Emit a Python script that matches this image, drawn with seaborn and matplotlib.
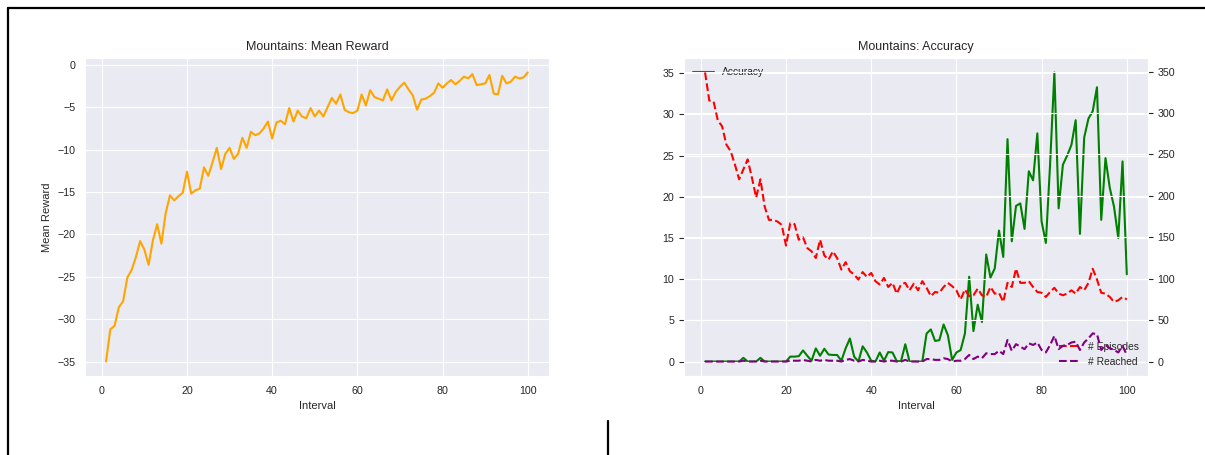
import numpy as np
import seaborn as sns
from matplotlib import pyplot as plt
from matplotlib.lines import Line2D

# values, one per interval (1..100)
intervals = list(range(1, 101))

mean_reward = [
    -35.0, -31.2, -30.8, -28.6, -27.9, -25.1, -24.2, -22.7, -20.8, -21.8,
    -23.6, -20.7, -18.8, -21.1, -17.5, -15.4, -16.0, -15.5, -15.1, -12.6,
    -15.2, -14.8, -14.6, -12.1, -13.1, -11.5, -9.8, -12.3, -10.5, -9.8,
    -11.1, -10.5, -8.6, -9.8, -7.9, -8.3, -8.1, -7.5, -6.7, -8.7,
    -6.8, -6.6, -7.0, -5.1, -6.7, -5.4, -6.1, -6.3, -5.1, -6.1,
    -5.4, -6.1, -5.0, -3.9, -4.6, -3.5, -5.3, -5.6, -5.7, -5.4,
    -3.5, -4.8, -3.0, -3.8, -4.0, -4.2, -2.9, -4.2, -3.2, -2.6,
    -2.1, -2.9, -3.6, -5.3, -4.1, -4.0, -3.7, -3.3, -2.2, -2.7,
    -2.2, -1.8, -2.3, -1.9, -1.4, -1.6, -1.1, -2.4, -2.3, -2.2,
    -1.2, -3.4, -3.5, -1.3, -2.2, -2.0, -1.4, -1.6, -1.5, -0.9,
]

accuracy = [
    0, 0, 0, 0, 0, 0, 0, 0, 0, 0.45,
    0, 0, 0, 0.45, 0, 0, 0, 0, 0, 0,
    0.6, 0.6, 0.65, 1.35, 0.7, 0.1, 1.6, 0.7, 1.55, 0.85,
    0.8, 0.8, 0.1, 1.6, 2.8, 0.6, 0, 1.85, 1.1, 0.1,
    0, 1.1, 0.1, 1.15, 1.1, 0.05, 0.05, 2.1, 0, 0,
    0, 0, 3.4, 3.9, 2.5, 2.6, 4.5, 3.2, 0.2, 1.1,
    1.4, 3.4, 10.3, 3.7, 6.9, 4.8, 13.0, 10.2, 11.3, 15.9,
    12.7, 27.0, 14.6, 18.9, 19.2, 16.1, 23.1, 22.0, 27.7, 17.0,
    14.4, 24.0, 35.1, 18.6, 23.9, 25.0, 26.3, 29.3, 15.5, 27.2,
    29.5, 30.4, 33.3, 17.2, 24.7, 21.1, 18.8, 15.0, 24.3, 10.6,
]

episodes = [
    349, 315, 314, 291, 284, 262, 254, 238, 220, 232,
    244, 222, 198, 220, 187, 171, 171, 169, 165, 140,
    167, 166, 147, 150, 137, 133, 125, 147, 128, 123,
    133, 125, 111, 120, 109, 105, 99, 108, 102, 107,
    97, 93, 101, 90, 95, 82, 93, 95, 86, 94,
    86, 97, 89, 79, 84, 83, 90, 95, 91, 86,
    75, 87, 79, 80, 88, 80, 78, 90, 82, 83,
    72, 95, 90, 112, 95, 95, 97, 90, 84, 83,
    78, 84, 89, 82, 80, 82, 86, 82, 90, 86,
    95, 112, 99, 83, 82, 78, 72, 74, 78, 75,
]

reached = [
    0, 0, 0, 0, 0, 0, 0, 0, 0, 1,
    0, 0, 0, 1, 0, 0, 0, 0, 0, 0,
    1, 1, 1, 2, 1, 0, 2, 1, 2, 1,
    1, 1, 0, 2, 3, 1, 0, 2, 1, 0,
    0, 1, 0, 1, 1, 0, 0, 2, 0, 0,
    0, 0, 3, 3, 2, 2, 4, 3, 0, 1,
    1, 3, 8, 3, 6, 4, 10, 9, 9, 13,
    9, 26, 13, 21, 18, 15, 22, 20, 23, 14,
    11, 20, 31, 15, 19, 20, 23, 24, 14, 23,
    28, 34, 33, 14, 20, 16, 14, 11, 19, 8,
]

sns.set_style("darkgrid")
plt.rcParams['font.family'] = ['Liberation Sans', 'DejaVu Sans']
plt.rcParams['xtick.labelsize'] = 7.7
plt.rcParams['ytick.labelsize'] = 7.7
plt.rcParams['axes.labelsize'] = 8
plt.rcParams['axes.titlesize'] = 9.0
plt.rcParams['legend.fontsize'] = 7.4
plt.rcParams['legend.frameon'] = False

fig = plt.figure(figsize=(12.05, 4.55), dpi=100)
ax1 = fig.add_axes([0.0705, 0.1736, 0.385, 0.699])
ax2 = fig.add_axes([0.5676, 0.1736, 0.385, 0.699])

# left: mean reward
sns.lineplot(x=intervals, y=mean_reward, color='orange', linewidth=1.5, ax=ax1)
ax1.set_title('Mountains: Mean Reward')
ax1.set_xlabel('Interval')
ax1.set_ylabel('Mean Reward')
ax1.set_yticks(range(-35, 1, 5))

# right: accuracy with episode counts on a twin axis
sns.lineplot(x=intervals, y=accuracy, color='green', linewidth=1.5,
             label='Accuracy', ax=ax2)
ax2.set_title('Mountains: Accuracy')
ax2.set_xlabel('Interval')
ax2.set_yticks(range(0, 36, 5))
acc_line = [l for l in ax2.get_lines() if l.get_label() == 'Accuracy']
ax2.legend(handles=acc_line, loc='upper left', frameon=False)

ax3 = ax2.twinx()
sns.lineplot(x=intervals, y=episodes, color='red', linestyle='--',
             linewidth=1.5, label='# Episodes', ax=ax3)
sns.lineplot(x=intervals, y=reached, color='purple', linestyle='--',
             linewidth=1.5, label='# Reached', ax=ax3)
ax3.set_yticks(range(0, 351, 50))
count_lines = [l for l in ax3.get_lines() if l.get_label() in ('# Episodes', '# Reached')]
leg = ax3.legend(handles=count_lines, loc='lower right', frameon=False)
leg.set_zorder(1.5)

# notebook cell frame lines around the figure
for xs, ys in [([8 / 1205, 1], [1 - 8 / 455, 1 - 8 / 455]),
               ([8 / 1205, 8 / 1205], [0, 1 - 8 / 455]),
               ([608 / 1205, 608 / 1205], [0, 34 / 455])]:
    fig.add_artist(Line2D(xs, ys, transform=fig.transFigure, color='black', linewidth=1.6))

plt.savefig('out.png', dpi=100)
